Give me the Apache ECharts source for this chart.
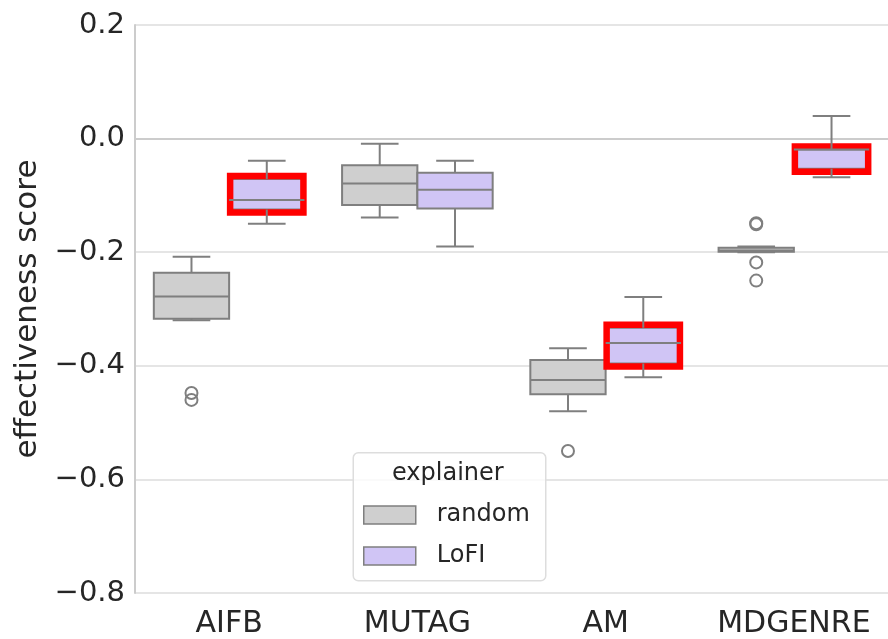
<!DOCTYPE html>
<html>
<head>
<meta charset="utf-8">
<script src="https://cdn.jsdelivr.net/npm/echarts@6/dist/echarts.min.js"></script>
<style>
html,body{margin:0;padding:0;background:#fff;}
#chart{width:888px;height:639px;}
</style>
</head>
<body>
<div id="chart"></div>
<script>
// ---- data ----
const categories = ['AIFB', 'MUTAG', 'AM', 'MDGENRE'];
const seriesNames = ['random', 'LoFI'];
// [min whisker, Q1, median, Q3, max whisker]
const randomStats = [
  [-0.320, -0.317, -0.278, -0.236, -0.208],
  [-0.139, -0.117, -0.079, -0.047, -0.009],
  [-0.480, -0.450, -0.425, -0.390, -0.369],
  [-0.200, -0.199, -0.197, -0.192, -0.190]
];
const lofiStats = [
  [-0.150, -0.125, -0.108, -0.071, -0.039],
  [-0.190, -0.123, -0.090, -0.060, -0.039],
  [-0.420, -0.396, -0.360, -0.333, -0.279],
  [-0.068, -0.053, -0.019, -0.019, 0.040]
];
// outliers: [category index, value]
const randomOutliers = [[0, -0.448], [0, -0.460], [2, -0.550], [3, -0.149], [3, -0.151], [3, -0.218], [3, -0.250]];
const lofiOutliers = [];
// which LoFI boxes are framed in red
const lofiHighlight = [1, 0, 1, 1];
const yTicks = [-0.8, -0.6, -0.4, -0.2, 0.0, 0.2];

const fills = { random: '#cfcfcf', LoFI: '#d0c5f5' };
const lineCol = '#7f7f7f';
const textCol = '#262626';
const FONT = 'DejaVu Sans';

function boxData(stats, hl) {
  return stats.map((s, i) => [i, s[0], s[1], s[2], s[3], s[4], hl ? hl[i] : 0]);
}

function makeBoxRender(sign, fill) {
  return function (params, api) {
    const ci = api.value(0);
    const band = api.size([1, 0])[0];
    const half = 0.2 * band;
    const cx = api.coord([ci, 0])[0] + sign * 0.2 * band;
    const y = v => api.coord([ci, v])[1];
    const mn = y(api.value(1)), q1 = y(api.value(2)), md = y(api.value(3)), q3 = y(api.value(4)), mx = y(api.value(5));
    const capHalf = half / 2;
    const ls = { stroke: lineCol, lineWidth: 2 };
    const children = [
      { type: 'rect', shape: { x: cx - half, y: q3, width: 2 * half, height: q1 - q3 }, style: { fill: fill, stroke: lineCol, lineWidth: 2 } }
    ];
    if (api.value(6)) {
      children.push({ type: 'rect', shape: { x: cx - half + 1, y: q3 - 3, width: 2 * half - 2, height: q1 - q3 + 6 }, style: { fill: 'none', stroke: '#ff0000', lineWidth: 6.5 } });
    }
    children.push(
      { type: 'line', shape: { x1: cx, y1: q3, x2: cx, y2: mx }, style: ls },
      { type: 'line', shape: { x1: cx, y1: q1, x2: cx, y2: mn }, style: ls },
      { type: 'line', shape: { x1: cx - capHalf, y1: mx, x2: cx + capHalf, y2: mx }, style: ls },
      { type: 'line', shape: { x1: cx - capHalf, y1: mn, x2: cx + capHalf, y2: mn }, style: ls },
      { type: 'line', shape: { x1: cx - half, y1: md, x2: cx + half, y2: md }, style: ls }
    );
    return { type: 'group', children: children };
  };
}

function makeOutlierRender(sign) {
  return function (params, api) {
    const ci = api.value(0);
    const band = api.size([1, 0])[0];
    const p = api.coord([ci, api.value(1)]);
    return { type: 'circle', shape: { cx: p[0] + sign * 0.2 * band, cy: p[1], r: 6 }, style: { fill: 'none', stroke: lineCol, lineWidth: 2 } };
  };
}

const fmt = v => {
  const s = (Math.round(v * 10) / 10).toFixed(1);
  return s === '-0.0' ? '0.0' : s.replace('-', '\u2212');
};

const chart = echarts.init(document.getElementById('chart'), null, { renderer: 'canvas' });
chart.setOption({
  animation: false,
  backgroundColor: '#ffffff',
  textStyle: { fontFamily: FONT },
  grid: { left: 135, top: 25, width: 763, height: 568.5, containLabel: false },
  xAxis: {
    type: 'category',
    data: categories,
    axisLine: { show: true, lineStyle: { color: '#cccccc', width: 2 } },
    axisTick: { show: false },
    axisLabel: { fontSize: 30, color: textCol, fontFamily: FONT, margin: 16, interval: 0, hideOverlap: false },
    splitLine: { show: false }
  },
  yAxis: {
    type: 'value',
    min: yTicks[0],
    max: yTicks[yTicks.length - 1],
    interval: 0.2,
    name: 'effectiveness score',
    nameLocation: 'middle',
    nameGap: 89,
    nameTextStyle: { fontSize: 31, color: textCol, fontFamily: FONT },
    axisLine: { show: true, lineStyle: { color: '#cccccc', width: 2 } },
    axisTick: { show: false },
    axisLabel: { fontSize: 29, color: textCol, fontFamily: FONT, margin: 10, formatter: fmt },
    splitLine: { show: true, lineStyle: { color: '#dcdcdc', width: 1.5 } }
  },
  legend: {
    data: seriesNames,
    orient: 'vertical',
    left: 363,
    top: 503,
    padding: 0,
    itemWidth: 52,
    itemHeight: 18,
    itemGap: 17,
    icon: 'rect',
    itemStyle: { borderColor: lineCol, borderWidth: 1.5 },
    textStyle: { fontSize: 24, lineHeight: 24, color: textCol, fontFamily: FONT, padding: [0, 0, 0, 16] },
    z: 10
  },
  graphic: [
    { type: 'rect', left: 352.5, top: 452, z: 5,
      shape: { width: 192.5, height: 128, r: 5 },
      style: { fill: 'rgba(255,255,255,0.8)', stroke: '#dddddd', lineWidth: 1.5 } },
    { type: 'text', z: 6, left: 392, top: 462,
      style: { text: 'explainer', fontSize: 24, fill: textCol, fontFamily: FONT } }
  ],
  series: [
    { name: 'random', type: 'custom', renderItem: makeBoxRender(-1, fills.random),
      data: boxData(randomStats), encode: { x: 0, y: [1, 2, 3, 4, 5] },
      itemStyle: { color: fills.random }, z: 2 },
    { name: 'LoFI', type: 'custom', renderItem: makeBoxRender(1, fills.LoFI),
      data: boxData(lofiStats, lofiHighlight), encode: { x: 0, y: [1, 2, 3, 4, 5] },
      itemStyle: { color: fills.LoFI }, z: 2 },
    { name: 'random', type: 'custom', renderItem: makeOutlierRender(-1),
      data: randomOutliers, encode: { x: 0, y: 1 }, itemStyle: { color: fills.random }, z: 3 },
    { name: 'LoFI', type: 'custom', renderItem: makeOutlierRender(1),
      data: lofiOutliers, encode: { x: 0, y: 1 }, itemStyle: { color: fills.LoFI }, z: 3 }
  ]
});
</script>
</body>
</html>
